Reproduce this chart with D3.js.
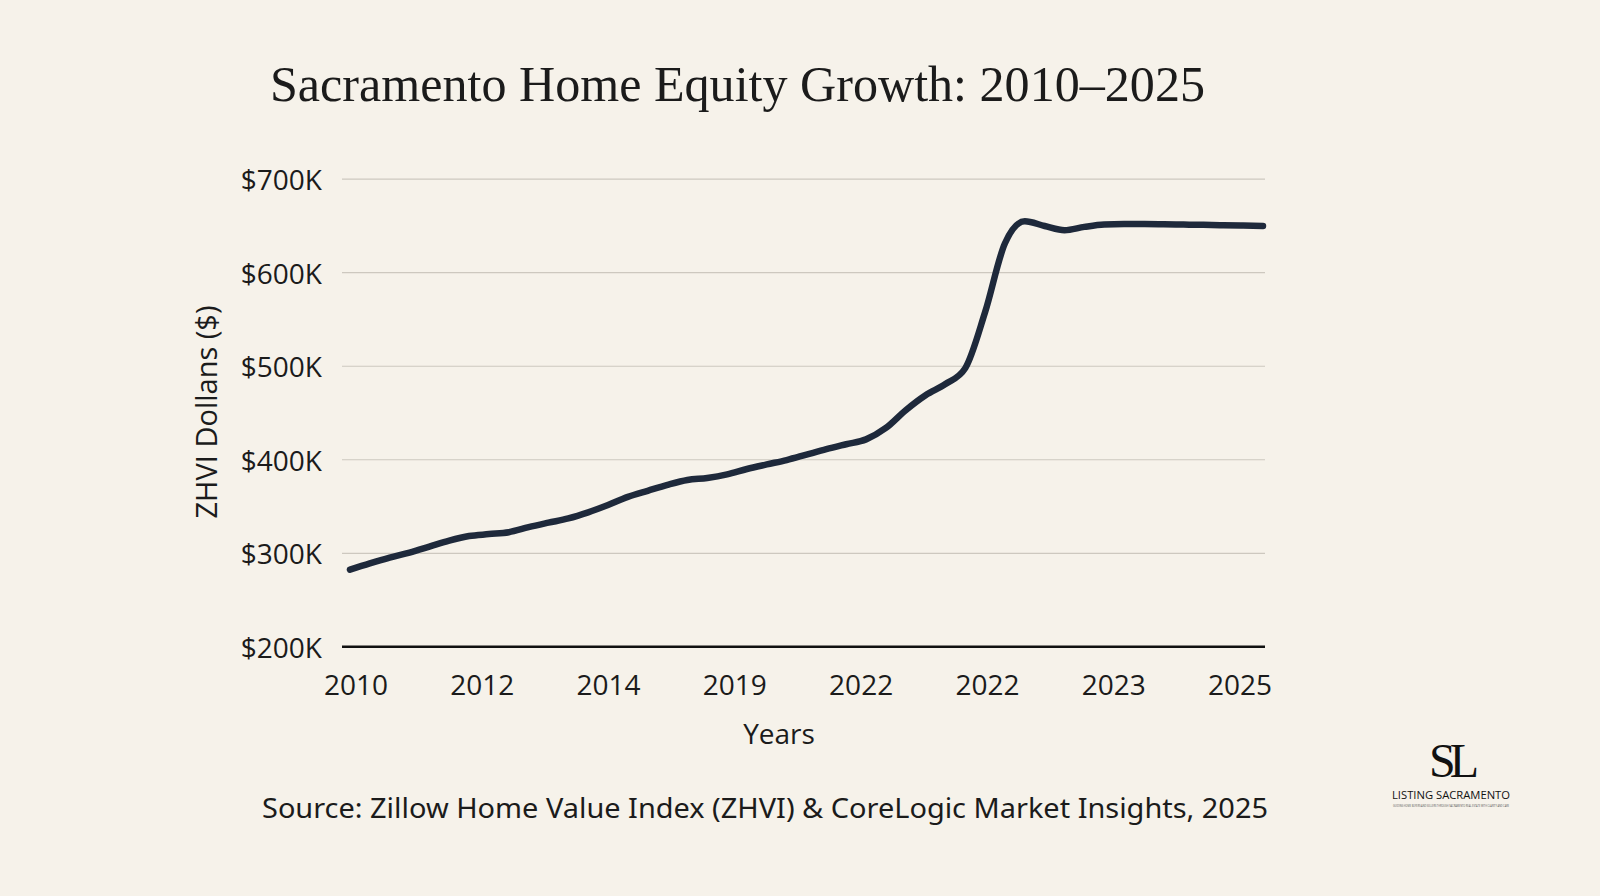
<!DOCTYPE html>
<html>
<head>
<meta charset="utf-8">
<script src="https://cdn.jsdelivr.net/npm/d3@7/dist/d3.min.js"></script>
<style>
  html, body { margin: 0; padding: 0; background: #f6f2ea; }
  svg { display: block; }
</style>
</head>
<body>
<svg id="chart" width="1600" height="896"></svg>
<script>
// ---- Data ----
const titleText = "Sacramento Home Equity Growth: 2010–2025";
const xLabels = ["2010", "2012", "2014", "2019", "2022", "2022", "2023", "2025"];
const yTicks = [200, 300, 400, 500, 600, 700]; // thousands of dollars
const yTickLabels = ["$200K", "$300K", "$400K", "$500K", "$600K", "$700K"];
// ZHVI value (thousands of $), evenly spaced samples along the line
const zhviValues = [
  282.5, 289.2, 295.4, 300.8, 307.1, 313.5, 318.4, 320.5, 322.5, 327.9,
  332.7, 337.3, 343.8, 351.7, 360.3, 366.8, 373.2, 378.4, 380.5, 384.3,
  390.1, 395.0, 399.7, 405.5, 411.3, 416.6, 421.8, 434.0, 453.0, 469.0,
  481.0, 498.0, 558.0, 631.5, 655.0, 650.0, 645.5, 649.0, 651.5, 652.0,
  652.0, 651.8, 651.5, 651.2, 650.8, 650.4, 650.0
];
const yAxisTitle = "ZHVI Dollans ($)";
const xAxisTitle = "Years";
const sourceText = "Source: Zillow Home Value Index (ZHVI) & CoreLogic Market Insights, 2025";

// ---- Layout ----
const svg = d3.select("#chart");
const W = 1600, H = 896;
const plotLeft = 342, plotRight = 1265;
const textColor = "#1b1b1b";
const lineColor = "#1e293b";

svg.append("rect").attr("width", W).attr("height", H).attr("fill", "#f6f2ea");

const y = d3.scaleLinear().domain([200, 700]).range([646.8, 179.2]);
const xLine = d3.scaleLinear().domain([0, zhviValues.length - 1]).range([350, 1263]);
const xCat = d3.scalePoint().domain(d3.range(xLabels.length)).range([356, 1240]);

// Title
svg.append("text")
  .attr("x", 270).attr("y", 101)
  .attr("font-family", "'Liberation Serif', 'DejaVu Serif', serif")
  .attr("font-size", 50)
  .attr("fill", textColor)
  .attr("textLength", 935)
  .attr("lengthAdjust", "spacingAndGlyphs")
  .text(titleText);

// Gridlines
const grid = svg.append("g");
grid.selectAll("line.grid")
  .data(yTicks.filter(d => d !== 200))
  .join("line")
  .attr("class", "grid")
  .attr("x1", plotLeft).attr("x2", plotRight)
  .attr("y1", d => y(d)).attr("y2", d => y(d))
  .attr("stroke", "#cdc8bf")
  .attr("stroke-width", 1.2);

// Baseline (200K)
svg.append("line")
  .attr("x1", plotLeft).attr("x2", plotRight)
  .attr("y1", y(200)).attr("y2", y(200))
  .attr("stroke", "#111")
  .attr("stroke-width", 2.6);

// Y tick labels
svg.append("g").selectAll("text")
  .data(yTicks)
  .join("text")
  .attr("x", 322)
  .attr("y", d => y(d) + 11)
  .attr("text-anchor", "end")
  .attr("font-family", "'Open Sans', 'Noto Sans', sans-serif")
  .attr("font-size", 28)
  .attr("fill", textColor)
  .text((d, i) => yTickLabels[i]);

// X tick labels
svg.append("g").selectAll("text")
  .data(xLabels)
  .join("text")
  .attr("x", (d, i) => xCat(i))
  .attr("y", 695)
  .attr("text-anchor", "middle")
  .attr("font-family", "'Open Sans', 'Noto Sans', sans-serif")
  .attr("font-size", 28)
  .attr("fill", textColor)
  .text(d => d);

// Axis titles
svg.append("text")
  .attr("x", 779).attr("y", 744)
  .attr("text-anchor", "middle")
  .attr("font-family", "'Open Sans', 'Noto Sans', sans-serif")
  .attr("font-size", 28)
  .attr("fill", textColor)
  .text(xAxisTitle);

svg.append("text")
  .attr("transform", "translate(217,412) rotate(-90)")
  .attr("text-anchor", "middle")
  .attr("font-family", "'Open Sans', 'Noto Sans', sans-serif")
  .attr("font-size", 29)
  .attr("fill", textColor)
  .text(yAxisTitle);

// Line
const line = d3.line()
  .x((d, i) => xLine(i))
  .y(d => y(d))
  .curve(d3.curveMonotoneX);

svg.append("path")
  .datum(zhviValues)
  .attr("d", line)
  .attr("fill", "none")
  .attr("stroke", lineColor)
  .attr("stroke-width", 6.5)
  .attr("stroke-linecap", "round")
  .attr("stroke-linejoin", "round");

// Source
svg.append("text")
  .attr("x", 262).attr("y", 818)
  .attr("font-family", "'Noto Sans', 'Open Sans', sans-serif")
  .attr("font-size", 27)
  .attr("fill", textColor)
  .attr("textLength", 1006)
  .attr("lengthAdjust", "spacingAndGlyphs")
  .text(sourceText);

// Logo
const logo = svg.append("g");
logo.append("text")
  .attr("x", 1451).attr("y", 777)
  .attr("text-anchor", "middle")
  .attr("font-family", "'Liberation Serif', serif")
  .attr("font-size", 48)
  .attr("letter-spacing", -6)
  .attr("fill", "#111")
  .text("SL");
logo.append("text")
  .attr("x", 1451).attr("y", 799)
  .attr("text-anchor", "middle")
  .attr("font-family", "'Open Sans', sans-serif")
  .attr("font-size", 11.5)
  .attr("fill", "#111")
  .attr("textLength", 118)
  .attr("lengthAdjust", "spacingAndGlyphs")
  .text("LISTING SACRAMENTO");
logo.append("text")
  .attr("x", 1451).attr("y", 807)
  .attr("text-anchor", "middle")
  .attr("font-family", "'Open Sans', sans-serif")
  .attr("font-size", 3.5)
  .attr("fill", "#555")
  .attr("textLength", 116)
  .attr("lengthAdjust", "spacingAndGlyphs")
  .text("GUIDING HOME BUYERS AND SELLERS THROUGH SACRAMENTO REAL ESTATE WITH CLARITY AND CARE");
</script>
</body>
</html>
